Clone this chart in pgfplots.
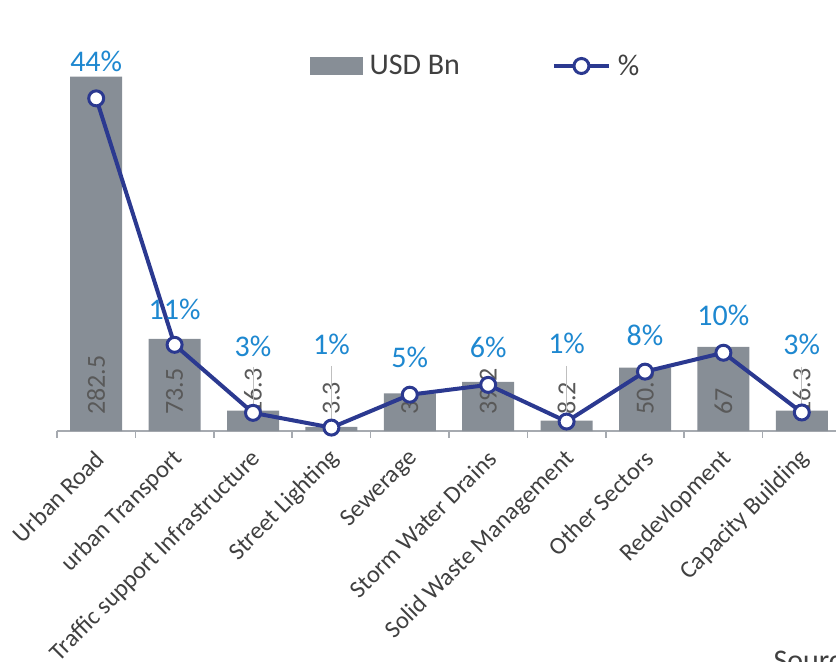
\documentclass[border=0pt]{standalone}
\usepackage{pgfplots}
\pgfplotsset{compat=1.18}
\usepackage{fontspec}
\setmainfont{Carlito}
\definecolor{bargray}{RGB}{135,142,150}
\definecolor{lineblue}{RGB}{43,57,144}
\definecolor{pctblue}{RGB}{30,136,208}
\definecolor{txtgray}{RGB}{64,64,64}
\definecolor{lblgray}{RGB}{89,89,89}
\definecolor{axgray}{RGB}{166,170,176}
\definecolor{leadgray}{RGB}{191,191,191}
\pgfplotsset{mylegline/.style={legend image code/.code={\draw[mark repeat=2, mark phase=2, ##1] plot coordinates {(0bp,0bp) (27.5bp,0bp) (55bp,0bp)};}}}
\begin{document}
\begin{tikzpicture}
\path[use as bounding box] (0,0) rectangle (836bp,662bp);
\clip (0,0) rectangle (836bp,662bp);
\begin{axis}[
  at={(57bp,231bp)}, anchor=south west,
  width=784bp, height=391bp, scale only axis,
  xmin=-0.5, xmax=9.5, ymin=0, ymax=311.7,
  axis x line=bottom, axis y line=none,
  x axis line style={-, draw=axgray, line width=1.5bp},
  xtick={0,...,9},
  xticklabels={Urban Road, urban Transport, Traffic support Infrastructure, Street Lighting, Sewerage, Storm Water Drains, Solid Waste Management, Other Sectors, Redevlopment, Capacity Building},
  major x tick style={draw=none},
  minor xtick={-0.5,0.5,...,9.5},
  minor x tick style={draw=axgray, line width=1.5bp},
  minor tick length=7bp,
  major tick length=0bp,
  tick align=outside,
  xticklabel style={xshift=4bp, yshift=-24bp, anchor=east, rotate=45, inner sep=0pt, font=\fontsize{24.5bp}{29bp}\selectfont, text=txtgray},
  ytick=\empty,
  clip=false,
]
\addplot[ybar, bar width=52bp, fill=bargray, draw=none] coordinates {
(0,282.5) (1,73.5) (2,16.3) (3,3.3) (4,30) (5,39.2) (6,8.2) (7,50.6) (8,67) (9,16.3)};
\addplot[draw=none, no marks, point meta=explicit symbolic, nodes near coords,
  every node near coord/.append style={rotate=90, anchor=west, inner sep=0pt, font=\fontsize{26bp}{31bp}\selectfont, text=lblgray}]
coordinates {
(0,12.8) [282.5] (1,12.8) [73.5] (2,12.8) [16.3] (3,12.8) [3.3] (4,12.8) [30]
(5,12.8) [39.2] (6,12.8) [8.2] (7,12.8) [50.6] (8,12.8) [67] (9,12.8) [16.3]};
\end{axis}
\begin{axis}[
  at={(57bp,231bp)}, anchor=south west,
  width=784bp, height=391bp, scale only axis,
  xmin=-0.5, xmax=9.5, ymin=0, ymax=51.72,
  hide axis, clip=false,
  legend columns=2,
  legend style={at={(0.3227,0.9335)}, anchor=west, draw=none, fill=none, inner sep=0pt,
    font=\fontsize{30bp}{36bp}\selectfont, text=txtgray,
    /tikz/every odd column/.append style={column sep=5bp},
    /tikz/every even column/.append style={column sep=90bp}},
]
\addlegendimage{legend image code/.code={\fill[bargray] (0bp,-8.5bp) rectangle (52bp,8.5bp);}}
\addlegendentry{USD Bn}
\addplot[leadgray, line width=1bp, forget plot] coordinates {(2,8.5) (2,2.8)};
\addplot[leadgray, line width=1bp, forget plot] coordinates {(3,8.6) (3,0.5)};
\addplot[leadgray, line width=1bp, forget plot] coordinates {(6,8.6) (6,1.5)};
\addplot[leadgray, line width=1bp, forget plot] coordinates {(9,8.5) (9,2.8)};
\addplot[lineblue, line width=4bp, mark=*, mark size=7.5bp,
  mark options={fill=white, draw=lineblue, line width=3bp}, mylegline]
coordinates {
(0,44.0) (1,11.4) (2,2.4) (3,0.45) (4,4.8) (5,6.1) (6,1.25) (7,7.85) (8,10.35) (9,2.45)};
\addlegendentry{\%}
\addplot[draw=none, no marks, forget plot, point meta=explicit symbolic, nodes near coords={\pgfplotspointmeta\%},
  every node near coord/.append style={anchor=center, inner sep=0pt, font=\fontsize{30bp}{36bp}\selectfont, text=pctblue}]
coordinates {
(0,48.9) [44] (1,16.1) [11] (2,11.2) [3] (3,11.5) [1] (4,9.8) [5]
(5,11.1) [6] (6,11.6) [1] (7,12.7) [8] (8,15.3) [10] (9,11.4) [3]};
\end{axis}
\node[anchor=base west, font=\fontsize{30bp}{36bp}\selectfont, text=txtgray] at (770bp,-8bp) {Source};
\end{tikzpicture}
\end{document}
